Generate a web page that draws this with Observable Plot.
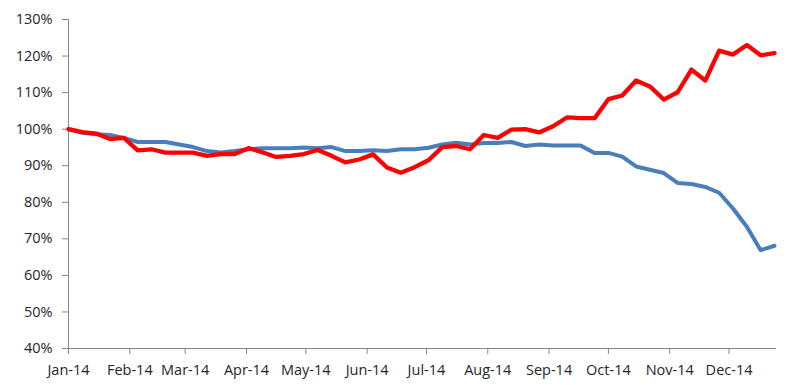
<!DOCTYPE html>
<html>
<head>
<meta charset="utf-8">
<script src="https://cdn.jsdelivr.net/npm/d3@7"></script>
<script src="https://cdn.jsdelivr.net/npm/@observablehq/plot@0.6"></script>
<style>
  html, body { margin: 0; padding: 0; background: #ffffff; }
</style>
</head>
<body>
<div id="chart"></div>
<script>
const dates = [
  "2014-01-01","2014-01-08","2014-01-15","2014-01-22","2014-01-29",
  "2014-02-05","2014-02-12","2014-02-19","2014-02-26",
  "2014-03-05","2014-03-12","2014-03-19","2014-03-26",
  "2014-04-02","2014-04-09","2014-04-16","2014-04-23","2014-04-30",
  "2014-05-07","2014-05-14","2014-05-21","2014-05-28",
  "2014-06-04","2014-06-11","2014-06-18","2014-06-25",
  "2014-07-02","2014-07-09","2014-07-16","2014-07-23","2014-07-30",
  "2014-08-06","2014-08-13","2014-08-20","2014-08-27",
  "2014-09-03","2014-09-10","2014-09-17","2014-09-24",
  "2014-10-01","2014-10-08","2014-10-15","2014-10-22","2014-10-29",
  "2014-11-05","2014-11-12","2014-11-19","2014-11-26",
  "2014-12-03","2014-12-10","2014-12-17","2014-12-24"
];

const blueSeries = [
  100, 99.0, 98.6, 98.4, 97.6, 96.5, 96.5, 96.5, 95.8, 95.1,
  94.0, 93.6, 94.0, 94.5, 94.8, 94.8, 94.8, 95.0, 94.8, 95.1,
  94.0, 94.0, 94.2, 94.0, 94.5, 94.5, 94.9, 95.8, 96.3, 95.8,
  96.2, 96.2, 96.5, 95.4, 95.8, 95.5, 95.5, 95.5, 93.5, 93.5,
  92.5, 89.8, 88.9, 88.0, 85.3, 85.0, 84.2, 82.6, 78.3, 73.3,
  66.9, 68.1
];

const redSeries = [
  100, 99.2, 98.8, 97.3, 97.6, 94.2, 94.5, 93.6, 93.6, 93.6,
  92.7, 93.2, 93.2, 94.8, 93.7, 92.4, 92.7, 93.2, 94.3, 92.7,
  90.9, 91.7, 93.1, 89.5, 88.1, 89.6, 91.5, 95.1, 95.4, 94.5,
  98.4, 97.6, 99.9, 100.0, 99.1, 100.8, 103.2, 103.0, 103.0, 108.2,
  109.2, 113.3, 111.7, 108.1, 110.1, 116.3, 113.3, 121.5, 120.4, 123.0,
  120.2, 120.8
];

const monthTicks = [
  "2014-01-01","2014-02-01","2014-03-01","2014-04-01","2014-05-01","2014-06-01",
  "2014-07-01","2014-08-01","2014-09-01","2014-10-01","2014-11-01","2014-12-01"
];
const yTicks = [40, 50, 60, 70, 80, 90, 100, 110, 120, 130];

const xStart = "2014-01-01";
const xEnd = "2014-12-25";

const blueData = dates.map((d, i) => ({date: new Date(d), v: blueSeries[i]}));
const redData = dates.map((d, i) => ({date: new Date(d), v: redSeries[i]}));

const axisGray = "#868686";
const textColor = "#262626";

const chart = Plot.plot({
  width: 796,
  height: 385,
  marginLeft: 68,
  marginRight: 20,
  marginTop: 19,
  marginBottom: 37,
  style: {fontFamily: "'Open Sans', sans-serif", fontSize: "14.5px", background: "#ffffff", overflow: "visible"},
  x: {type: "utc", domain: [new Date(xStart), new Date(xEnd)]},
  y: {domain: [40, 130]},
  marks: [
    Plot.axisY({
      ticks: yTicks,
      tickFormat: d => d + "%",
      tickSize: 6,
      tickPadding: 10,
      stroke: axisGray,
      fill: textColor,
      label: null
    }),
    Plot.axisX({
      ticks: monthTicks.map(d => new Date(d)),
      tickFormat: d3.utcFormat("%b-%y"),
      tickSize: 6,
      tickPadding: 10,
      stroke: axisGray,
      fill: textColor,
      label: null
    }),
    Plot.ruleX([new Date(xStart)], {stroke: axisGray, strokeWidth: 1}),
    Plot.ruleY([40], {stroke: axisGray, strokeWidth: 1}),
    Plot.lineY(blueData, {x: "date", y: "v", stroke: "#4a7ebb", strokeWidth: 4, strokeLinejoin: "round", strokeLinecap: "round"}),
    Plot.lineY(redData, {x: "date", y: "v", stroke: "#ff0000", strokeWidth: 4.3, strokeLinejoin: "round", strokeLinecap: "round"})
  ]
});

document.getElementById("chart").appendChild(chart);
</script>
</body>
</html>
